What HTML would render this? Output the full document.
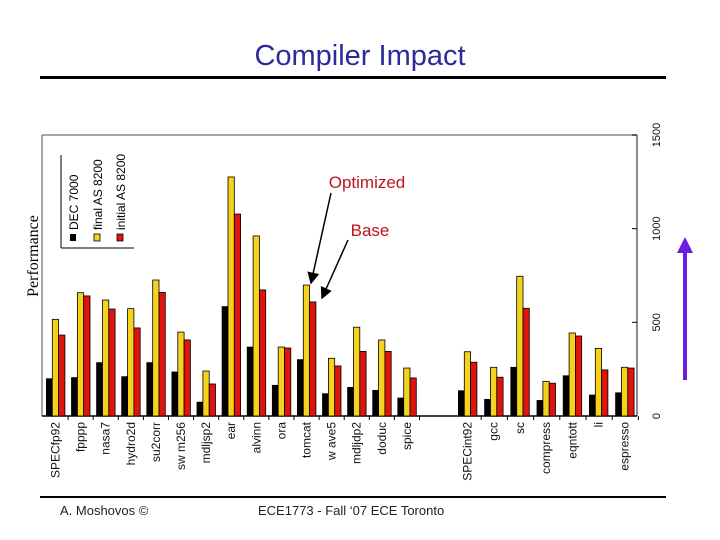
<!DOCTYPE html>
<html><head><meta charset="utf-8"><style>
body{margin:0;background:#fff;}
svg{display:block;font-family:"Liberation Sans",sans-serif;}
</style></head><body>
<svg id="c" width="720" height="540" viewBox="0 0 720 540">
<text x="360" y="65" text-anchor="middle" font-size="29" fill="#2b2b9a">Compiler Impact</text>
<rect x="40" y="76" width="626" height="3" fill="#000"/>
<rect x="40" y="496" width="626" height="2" fill="#000"/>
<text x="60" y="515" font-size="13" fill="#222">A. Moshovos ©</text>
<text x="258" y="515" font-size="13" fill="#222">ECE1773 - Fall ‘07 ECE Toronto</text>
<text transform="translate(38,256) rotate(-90)" text-anchor="middle" font-size="16" font-family="Liberation Serif, serif" fill="#000">Performance</text>
<line x1="42" y1="135" x2="637" y2="135" stroke="#888" stroke-width="1.5"/>
<line x1="42" y1="135" x2="42" y2="416" stroke="#888" stroke-width="1.5"/>
<line x1="637" y1="135" x2="637" y2="416" stroke="#666" stroke-width="1.5"/>
<line x1="42" y1="416" x2="637" y2="416" stroke="#000" stroke-width="1.5"/>
<g id="bars"></g><g id="ticks"></g><g id="labels"></g>
<g>
<line x1="61" y1="155" x2="61" y2="248" stroke="#000"/>
<line x1="61" y1="248" x2="134" y2="248" stroke="#000"/>
<rect x="70" y="234" width="6" height="7" fill="#000"/>
<text transform="translate(78,230) rotate(-90)" font-size="12">DEC 7000</text>
<rect x="94" y="234" width="6" height="7" fill="#f5d21c" stroke="#000" stroke-width="0.8"/>
<text transform="translate(102,230) rotate(-90)" font-size="12">final AS 8200</text>
<rect x="117" y="234" width="6" height="7" fill="#e0140f" stroke="#000" stroke-width="0.8"/>
<text transform="translate(125,230) rotate(-90)" font-size="12">initial AS 8200</text>
</g>
<text x="367" y="188" text-anchor="middle" font-size="17" fill="#c0141c">Optimized</text>
<text x="370" y="236" text-anchor="middle" font-size="17" fill="#c0141c">Base</text>
<defs><marker id="ah" markerWidth="8" markerHeight="8" refX="7" refY="4" orient="auto"><path d="M0,0L8,4L0,8z" fill="#000"/></marker>
<marker id="pa" markerWidth="4" markerHeight="4" refX="2" refY="2" orient="auto"><path d="M0,0L4,2L0,4z" fill="#6a1ee0"/></marker></defs>
<line x1="331" y1="193" x2="311" y2="283" stroke="#000" stroke-width="1.5" marker-end="url(#ah)"/>
<line x1="348" y1="240" x2="322" y2="298" stroke="#000" stroke-width="1.5" marker-end="url(#ah)"/>
<line x1="685" y1="380" x2="685" y2="245" stroke="#6a1ee0" stroke-width="4" marker-end="url(#pa)"/>
</svg>
<script>
const fpCats=["SPECfp92","fpppp","nasa7","hydro2d","su2corr","sw m256","mdljsp2","ear","alvinn","ora","tomcat","w ave5","mdljdp2","doduc","spice"];
const intCats=["SPECint92","gcc","sc","compress","eqntott","li","espresso"];
const fpDec=[201,207,287,212,287,237,76,586,370,166,303,121,155,139,98];
const fpFinal=[516,658,619,573,726,448,240,1276,961,368,699,308,474,406,256];
const fpInit=[432,641,571,470,660,406,171,1078,673,363,609,267,345,345,203];
const intDec=[137,91,262,85,217,114,126];
const intFinal=[343,260,746,185,443,361,260];
const intInit=[287,207,575,175,427,246,256];
const yTicks=[0,500,1000,1500];
const NS="http://www.w3.org/2000/svg";
const y=v=>416-v*281/1500;
const bars=document.getElementById('bars'),ticks=document.getElementById('ticks'),labels=document.getElementById('labels');
const colors=["#000","#f5d21c","#e0140f"],names=["dec7000","final","initial"];
function mk(t,a,p){const e=document.createElementNS(NS,t);for(const k in a)e.setAttribute(k,a[k]);p.appendChild(e);return e;}
function group(cats,s1,s2,s3,x0,step){
 cats.forEach((c,i)=>{const gx=x0+i*step;[s1,s2,s3].forEach((s,j)=>{
  const r=mk('rect',{x:gx+j*6.3,y:y(s[i]),width:6.3,height:416-y(s[i]),fill:colors[j],stroke:'#000','stroke-width':j?0.8:0},bars);
  
  });
  const t=mk('text',{transform:`translate(${gx+13.5},422) rotate(-90)`,'text-anchor':'end','font-size':12,fill:'#111'},labels);
  t.textContent=c;
  
  
  const tk=mk('line',{x1:gx+step-3,x2:gx+step-3,y1:416,y2:420,stroke:'#000'},ticks);
  
  
 });}
group(fpCats,fpDec,fpFinal,fpInit,46,25.1);
group(intCats,intDec,intFinal,intInit,458,26.2);
yTicks.forEach(v=>{
 const l=mk('line',{x1:632,x2:637,y1:y(v),y2:y(v),stroke:'#000'},ticks);
 
 
 const t=mk('text',{transform:`translate(660,${y(v)}) rotate(-90)`,'text-anchor':'middle','font-size':11,fill:'#111'},labels);
 t.textContent=v;
 
 
});
</script>
</body></html>
